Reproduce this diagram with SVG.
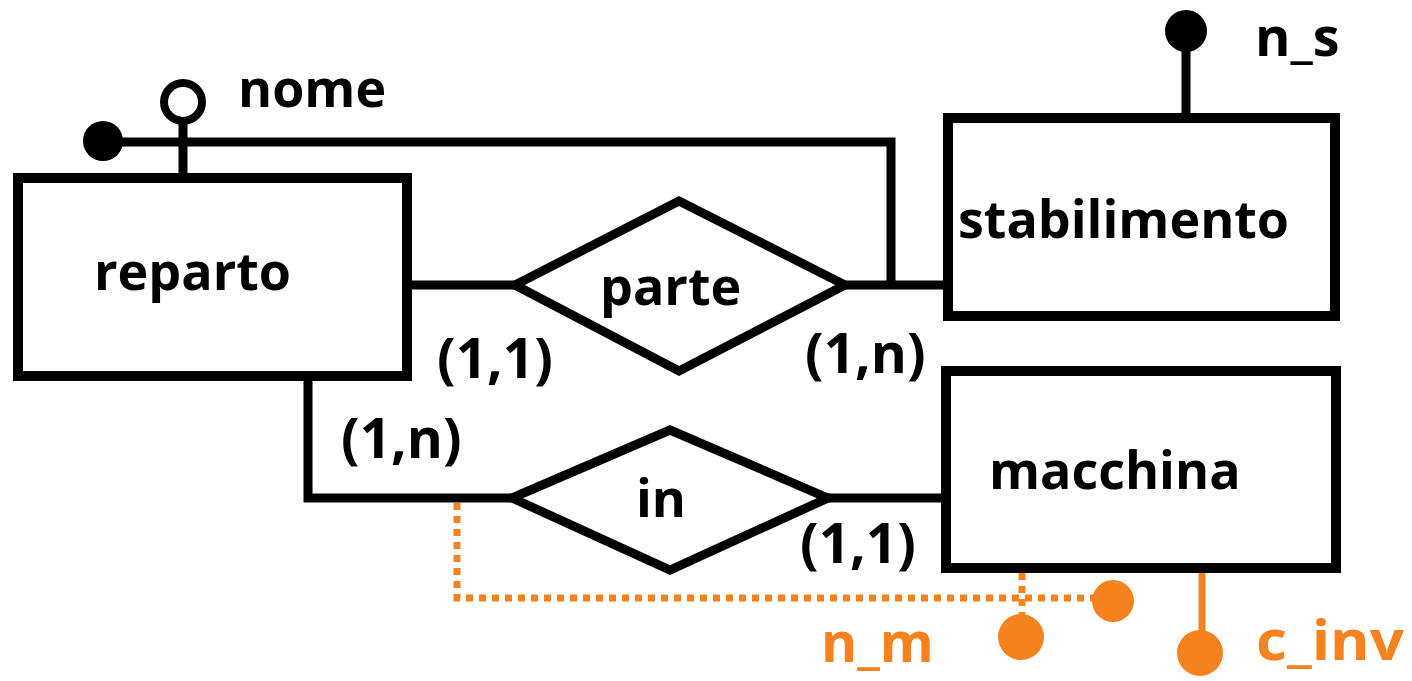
<svg xmlns="http://www.w3.org/2000/svg" width="1412" height="681" viewBox="0 0 1412 681">
<style>
.ent{fill:#fff;stroke:#000;stroke-width:10}
.rel{fill:#fff;stroke:#000;stroke-width:9;stroke-linejoin:miter}
.ln{fill:none;stroke:#000;stroke-width:9}
.t{font-family:"Open Sans","Noto Sans",sans-serif;font-weight:bold;font-size:52px;fill:#000}
.c{font-size:55px}
.ot{fill:#F5821F;font-size:55px}
.o{fill:#F5821F}
.ol{fill:none;stroke:#F5821F;stroke-width:7}
.od{fill:none;stroke:#F5821F;stroke-width:7;stroke-dasharray:7 6}
</style>
<rect width="1412" height="681" fill="#fff"/>
<g id="connectors">
<polyline class="ln" points="103,142 891,142 891,285"/>
<line class="ln" x1="183" y1="121" x2="183" y2="180"/>
<line class="ln" x1="1186" y1="40" x2="1186" y2="120"/>
<line class="ln" x1="407" y1="285" x2="515" y2="285"/>
<line class="ln" x1="845" y1="285" x2="952" y2="285"/>
<polyline class="ln" points="308,376 308,498 512,498"/>
<line class="ln" x1="828" y1="498" x2="946" y2="498"/>
<polyline class="od" points="457,503 457,598 1100,598"/>
<line class="od" x1="1022" y1="573" x2="1022" y2="620"/>
<line class="ol" x1="1202" y1="573" x2="1202" y2="640"/>
</g>
<g id="attr-nome">
<circle cx="183" cy="102" r="19" fill="#fff" stroke="#000" stroke-width="8"/>
<circle cx="103" cy="141" r="20" fill="#000"/>
<text class="t" x="238" y="107">nome</text>
</g>
<g id="attr-n_s">
<circle cx="1186" cy="31" r="21" fill="#000"/>
<text class="t" x="1255" y="56" style="font-size:54px">n_s</text>
</g>
<g id="reparto">
<rect class="ent" x="18" y="178" width="389" height="198"/>
<text class="t" x="94" y="290">reparto</text>
</g>
<g id="stabilimento">
<rect class="ent" x="948" y="118" width="387" height="198"/>
<text class="t" x="958" y="238">stabilimento</text>
</g>
<g id="macchina">
<rect class="ent" x="946" y="371" width="390" height="197"/>
<text class="t" x="989" y="489">macchina</text>
</g>
<g id="parte">
<polygon class="rel" points="515,285 679,201 845,285 679,371"/>
<text class="t" x="600" y="305">parte</text>
</g>
<g id="in">
<polygon class="rel" points="512,498 670,430 828,498 670,570"/>
<text class="t" x="636" y="517">in</text>
</g>
<g id="cardinalities">
<text class="t c" x="437" y="378">(1,1)</text>
<text class="t c" x="805" y="373">(1,n)</text>
<text class="t c" x="341" y="458">(1,n)</text>
<text class="t c" x="800" y="563">(1,1)</text>
</g>
<g id="attr-n_m">
<circle class="o" cx="1113" cy="601" r="21"/>
<circle class="o" cx="1021" cy="637" r="23"/>
<text class="t ot" x="821" y="662">n_m</text>
</g>
<g id="attr-c_inv">
<circle class="o" cx="1200" cy="653" r="23"/>
<text class="t ot" x="1256" y="660" textLength="148" lengthAdjust="spacingAndGlyphs">c_inv</text>
</g>
</svg>
